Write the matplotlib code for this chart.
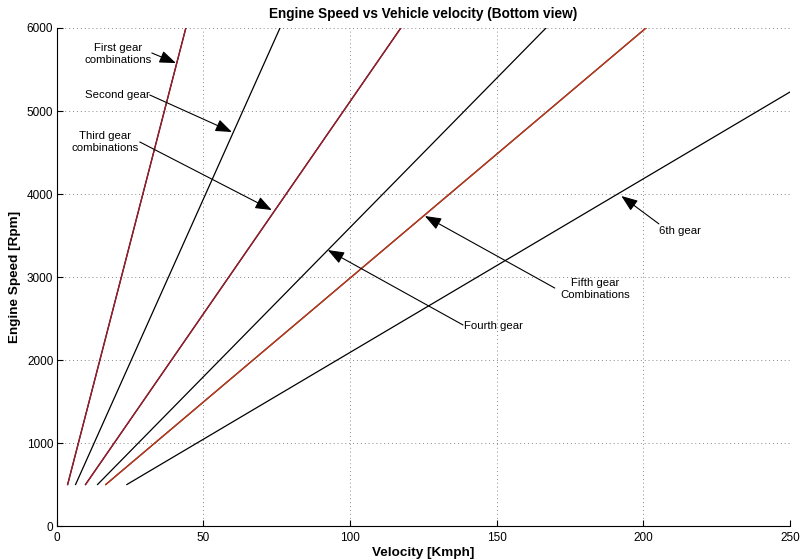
import numpy as np
import matplotlib.pyplot as plt

plt.rcParams['font.family'] = ['Liberation Sans', 'DejaVu Sans']

# each gear line: velocity (Kmph) and engine speed (Rpm) at both ends
v_start = [3.7, 6.4, 9.8, 13.9, 16.7, 23.9]
v_end = [44.0, 76.1, 117.3, 166.8, 200.9, 250.0]
rpm_start = [500, 500, 500, 500, 500, 500]
rpm_end = [6000, 6000, 6000, 6000, 6000, 5229]
line_colors = ['#a01c2c', 'black', '#a01c2c', 'black', '#c43a1c', 'black']

# annotations: label, arrow head (x, y), arrow tail (x, y), text position (x, y), alignment
labels = ['First gear\ncombinations', 'Second gear', 'Third gear\ncombinations',
          'Fourth gear', 'Fifth gear\nCombinations', '6th gear']
heads = [(40.6, 5578), (59.7, 4747), (73.3, 3807), (92.4, 3325), (125.5, 3735), (192.5, 3976)]
tails = [(32.4, 5699), (31.7, 5193), (28.3, 4627), (138.5, 2422), (169.8, 2867), (205.3, 3640)]
text_pos = [(20.8, 5687), (20.8, 5193), (16.4, 4627), (149.0, 2410), (183.5, 2855), (205.3, 3554)]
text_ha = ['center', 'center', 'center', 'center', 'center', 'left']

fig = plt.figure(figsize=(8, 5.6), dpi=100)
ax = fig.add_axes([0.071, 0.0607, 0.9165, 0.8893])

for i in range(len(v_start)):
    # black line under the coloured ones, like several overlapping combinations
    ax.plot([v_start[i], v_end[i]], [rpm_start[i], rpm_end[i]], color='black', lw=0.9)
    if line_colors[i] != 'black':
        ax.plot([v_start[i], v_end[i]], [rpm_start[i], rpm_end[i]], color=line_colors[i], lw=1.0)

for i in range(len(labels)):
    ax.annotate('', xy=heads[i], xytext=tails[i],
                arrowprops=dict(arrowstyle='-|>,head_length=1.0,head_width=0.38',
                                color='black', lw=0.8, shrinkA=0, shrinkB=0))
    ax.text(text_pos[i][0], text_pos[i][1], labels[i], ha=text_ha[i], va='center',
            fontsize=8.2, linespacing=1.2)

ax.set_xlim(0, 250)
ax.set_ylim(0, 6000)
ax.set_xticks(np.arange(0, 251, 50))
ax.set_yticks(np.arange(0, 6001, 1000))
ax.grid(True, linestyle=(0, (1, 3)), color='#888888', lw=0.7)
ax.tick_params(direction='in', labelsize=8.5, length=4)
ax.tick_params(axis='x', pad=4.5)
ax.tick_params(axis='y', pad=2.5)
ax.spines['top'].set_visible(False)
ax.spines['right'].set_visible(False)

ax.set_title('Engine Speed vs Vehicle velocity (Bottom view)', fontsize=9.8, fontweight='bold', pad=7)
ax.set_xlabel('Velocity [Kmph]', fontsize=9.7, fontweight='bold', labelpad=2)
ax.set_ylabel('Engine Speed [Rpm]', fontsize=9.7, fontweight='bold', labelpad=4)

plt.savefig('out.png', dpi=100)
